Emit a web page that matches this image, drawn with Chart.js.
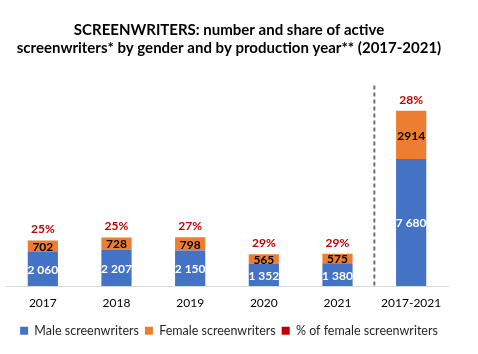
<!DOCTYPE html>
<html>
<head>
<meta charset="utf-8">
<script src="https://cdn.jsdelivr.net/npm/chart.js@4"></script>
<style>
  html, body { margin: 0; padding: 0; background: #fff; }
  #wrap { width: 478px; height: 354px; }
</style>
</head>
<body>
<div id="wrap"><canvas id="chart" width="478" height="354"></canvas></div>
<script>
const years = ['2017', '2018', '2019', '2020', '2021', '2017-2021'];
const male = [2060, 2207, 2150, 1352, 1380, 7680];
const female = [702, 728, 798, 565, 575, 2914];
const femaleShare = [25, 25, 27, 29, 29, 28];

const FONT = 'Lato, "Open Sans", sans-serif';

function spaced(n) {
    return String(n).replace(/\B(?=(\d{3})+(?!\d))/g, ' ');
}

const labelPlugin = {
    id: 'barLabels',
    afterDatasetsDraw(chart) {
        const ctx = chart.ctx;
        const maleMeta = chart.getDatasetMeta(0);
        const femaleMeta = chart.getDatasetMeta(1);
        ctx.save();
        ctx.textAlign = 'center';
        ctx.textBaseline = 'middle';
        ctx.font = 'bold 12px ' + FONT;
        maleMeta.data.forEach((bar, i) => {
            const mid = (bar.y + bar.base) / 2;
            ctx.fillStyle = '#ffffff';
            ctx.fillText(spaced(male[i]), bar.x, mid + 1);
        });
        femaleMeta.data.forEach((bar, i) => {
            const mid = (bar.y + bar.base) / 2;
            ctx.fillStyle = '#000000';
            // last total keeps no thousands space in the source
            const txt = i === female.length - 1 ? String(female[i]) : spaced(female[i]);
            ctx.fillText(txt, bar.x, mid + 1);
            ctx.fillStyle = '#c00000';
            ctx.fillText(femaleShare[i] + '%', bar.x, bar.y - 11);
        });
        ctx.restore();
    }
};

const dividerPlugin = {
    id: 'divider',
    beforeDatasetsDraw(chart) {
        const x = chart.scales.x;
        const area = chart.chartArea;
        const px = (x.getPixelForValue(4) + x.getPixelForValue(5)) / 2;
        const ctx = chart.ctx;
        ctx.save();
        ctx.strokeStyle = '#6e6e6e';
        ctx.lineWidth = 2;
        ctx.setLineDash([4, 3]);
        ctx.beginPath();
        ctx.moveTo(px, area.top - 2);
        ctx.lineTo(px, area.bottom);
        ctx.stroke();
        ctx.restore();
    }
};

new Chart(document.getElementById('chart'), {
    type: 'bar',
    data: {
        labels: years,
        datasets: [
            { label: 'Male screenwriters', data: male, backgroundColor: '#4472c4', stack: 's' },
            { label: 'Female screenwriters', data: female, backgroundColor: '#ed7d31', stack: 's' },
            { label: '% of female screenwriters', data: [], backgroundColor: '#c00000', stack: 'p' }
        ]
    },
    options: {
        responsive: false,
        animation: false,
        layout: { padding: { left: 6, right: 26, top: 12, bottom: 7 } },
        datasets: { bar: { barPercentage: 0.41, categoryPercentage: 1, grouped: false } },
        plugins: {
            title: {
                display: true,
                text: ['SCREENWRITERS: number and share of active', 'screenwriters* by gender and by production year** (2017-2021)'],
                color: '#000',
                font: { family: FONT, size: 15, weight: 'bold', lineHeight: 1.15 },
                padding: { top: 10, bottom: 31 }
            },
            legend: {
                position: 'bottom',
                labels: {
                    color: '#262626',
                    font: { family: FONT, size: 12.5 },
                    boxWidth: 8,
                    boxHeight: 8,
                    padding: 6
                }
            },
            tooltip: { enabled: false }
        },
        scales: {
            x: {
                stacked: true,
                grid: { display: false },
                border: { color: '#d9d9d9' },
                ticks: { color: '#000', font: { family: FONT, size: 12 }, padding: 2 },
                // extra room between the year labels and the legend
                afterFit: (scale) => { scale.height += 6; }
            },
            y: {
                stacked: true,
                position: 'right',
                min: 0,
                max: 12000,
                grid: { display: false },
                border: { display: false },
                ticks: { display: false },
                // small empty gutter on the right side of the plot
                afterFit: (scale) => { scale.width = 4; }
            }
        }
    },
    plugins: [dividerPlugin, labelPlugin]
});
</script>
</body>
</html>
